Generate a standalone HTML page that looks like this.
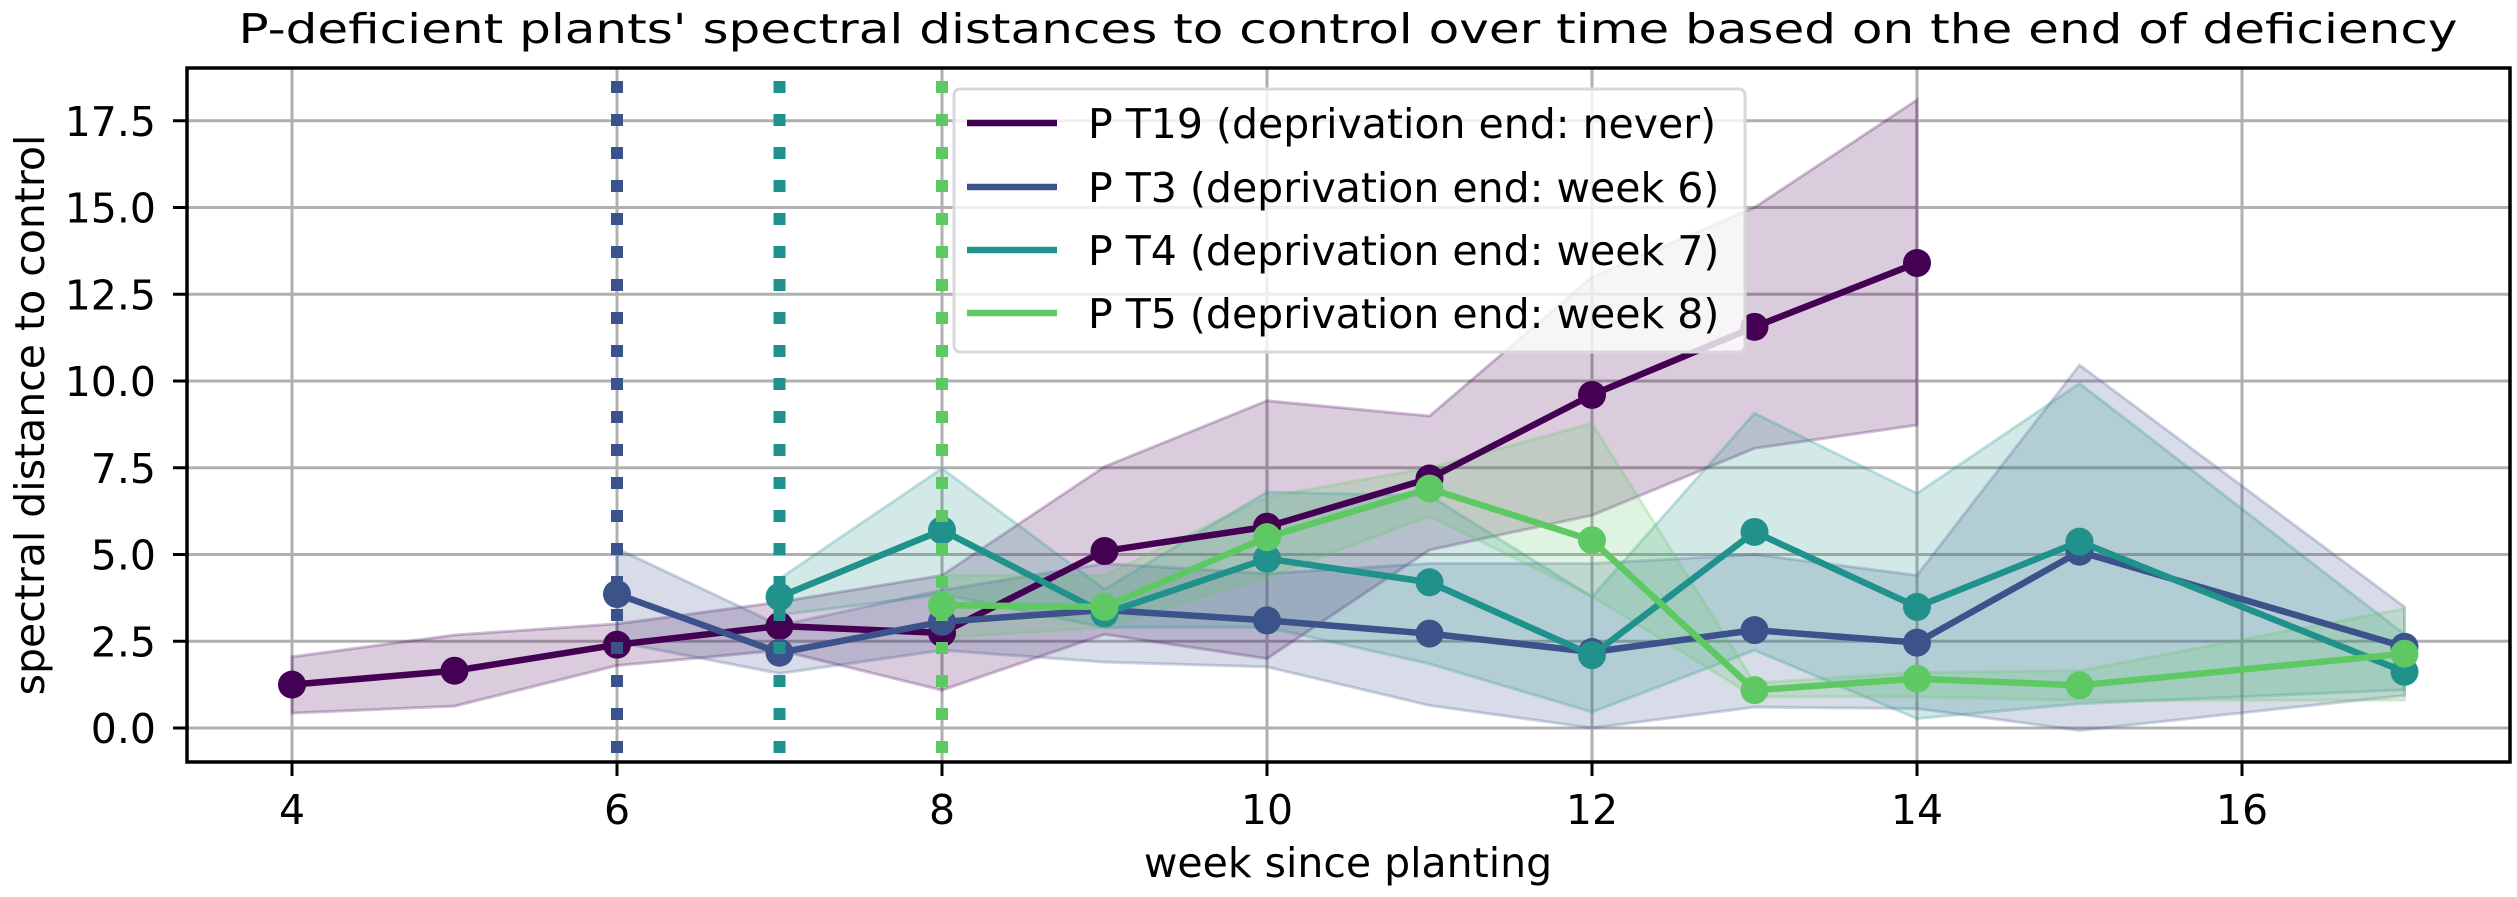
<!DOCTYPE html>
<html><head><meta charset="utf-8">
<style>
html,body{margin:0;padding:0;background:#fff;}
svg{display:block;font-family:"DejaVu Sans","Liberation Sans",sans-serif;}
</style></head>
<body>
<svg id="chart" width="2517" height="897" viewBox="0 0 2517 897" xmlns="http://www.w3.org/2000/svg">
  <rect x="0" y="0" width="2517" height="897" fill="#fff"/>
  <text x="1348" y="43" font-size="41" text-anchor="middle" textLength="2219" lengthAdjust="spacingAndGlyphs">P-deficient plants' spectral distances to control over time based on the end of deficiency</text>
  <g id="grid"></g>
  <g id="series"></g>
  <g id="vlines"></g>
  <rect x="187" y="68" width="2323" height="694" fill="none" stroke="#000" stroke-width="3.5"/>
  <g id="ticks"></g>
  <text x="1348" y="877" font-size="41" text-anchor="middle">week since planting</text>
  <text x="0" y="0" font-size="41" text-anchor="middle" transform="translate(44,415) rotate(-90)">spectral distance to control</text>
  <g id="legend"></g>
</svg>
<script>
const xTicks = [4, 6, 8, 10, 12, 14, 16];
const yTicks = [0, 2.5, 5, 7.5, 10, 12.5, 15, 17.5];
const yTickLabels = ["0.0", "2.5", "5.0", "7.5", "10.0", "12.5", "15.0", "17.5"];

const seriesNames = ["P T19 (deprivation end: never)", "P T3 (deprivation end: week 6)", "P T4 (deprivation end: week 7)", "P T5 (deprivation end: week 8)"];
const seriesColors = ["#440154", "#3b528b", "#21918c", "#5ec962"];
const deprivationEnd = [null, 6, 7, 8];

const weeksT19 = [4, 5, 6, 7, 8, 9, 10, 11, 12, 13, 14];
const meanT19 = [1.25, 1.65, 2.4, 2.94, 2.74, 5.1, 5.8, 7.19, 9.6, 11.56, 13.4];
const loT19 = [0.43, 0.63, 1.8, 2.24, 1.09, 2.7, 2.0, 5.13, 6.13, 8.06, 8.73];
const hiT19 = [2.05, 2.68, 3.0, 3.63, 4.4, 7.53, 9.43, 8.99, 13.0, 15.0, 18.1];

const weeksT3 = [6, 7, 8, 9, 10, 11, 12, 13, 14, 15, 17];
const meanT3 = [3.86, 2.17, 3.06, 3.4, 3.1, 2.72, 2.19, 2.82, 2.46, 5.08, 2.34];
const loT3 = [2.48, 1.57, 2.24, 1.9, 1.76, 0.65, 0.0, 0.6, 0.56, -0.07, 0.94];
const hiT3 = [5.17, 2.96, 3.97, 4.74, 4.45, 4.74, 4.74, 5.0, 4.4, 10.46, 3.49];

const weeksT4 = [7, 8, 9, 10, 11, 12, 13, 14, 15, 17];
const meanT4 = [3.78, 5.7, 3.3, 4.88, 4.2, 2.1, 5.65, 3.49, 5.37, 1.62];
const loT4 = [3.25, 3.85, 2.9, 2.9, 1.85, 0.46, 2.24, 0.27, 0.7, 1.1];
const hiT4 = [4.3, 7.48, 4.0, 6.8, 6.7, 3.78, 9.07, 6.76, 9.93, 2.7];

const weeksT5 = [8, 9, 10, 11, 12, 13, 14, 15, 17];
const meanT5 = [3.54, 3.49, 5.5, 6.9, 5.41, 1.09, 1.42, 1.23, 2.14];
const loT5 = [2.6, 2.9, 4.35, 6.1, 3.8, 0.9, 0.9, 0.8, 0.8];
const hiT5 = [4.4, 4.4, 6.66, 7.5, 8.78, 1.3, 1.6, 1.65, 3.44];

const NS = "http://www.w3.org/2000/svg";
const PL = 187, PR = 2510, PT = 68, PB = 762;
function xs(w) { return 292 + (w - 4) * 162.5; }
function ys(v) { return 728 - v * 34.7; }
function mk(tag, attrs, parent) {
  const e = document.createElementNS(NS, tag);
  for (const k in attrs) e.setAttribute(k, attrs[k]);
  parent.appendChild(e);
  return e;
}

const grid = document.getElementById("grid");
const ticks = document.getElementById("ticks");
xTicks.forEach((t, i) => {
  const g = mk("line", {x1: xs(t), x2: xs(t), y1: PT, y2: PB, stroke: "#b0b0b0", "stroke-width": 3}, grid);
  
  
  const tk = mk("line", {x1: xs(t), x2: xs(t), y1: PB, y2: PB + 14, stroke: "#000", "stroke-width": 3}, ticks);
  
  
  const tl = mk("text", {x: xs(t), y: 824, "font-size": 41, "text-anchor": "middle"}, ticks);
  tl.textContent = String(t);
  
  
});
yTicks.forEach((t, i) => {
  const g = mk("line", {x1: PL, x2: PR, y1: ys(t), y2: ys(t), stroke: "#b0b0b0", "stroke-width": 3}, grid);
  
  
  const tk = mk("line", {x1: PL - 14, x2: PL, y1: ys(t), y2: ys(t), stroke: "#000", "stroke-width": 3}, ticks);
  
  
  const tl = mk("text", {x: 156, y: ys(t) + 15, "font-size": 41, "text-anchor": "end"}, ticks);
  tl.textContent = yTickLabels[i];
  
  
});

const allWeeks = [weeksT19, weeksT3, weeksT4, weeksT5];
const allMean = [meanT19, meanT3, meanT4, meanT5];
const allLo = [loT19, loT3, loT4, loT5];
const allHi = [hiT19, hiT3, hiT4, hiT5];
const seriesKeys = ["t19", "t3", "t4", "t5"];
const layer = document.getElementById("series");

for (let s = 0; s < 4; s++) {
  const w = allWeeks[s], m = allMean[s], lo = allLo[s], hi = allHi[s], c = seriesColors[s];
  let pts = [];
  for (let i = 0; i < w.length; i++) pts.push(xs(w[i]) + "," + ys(hi[i]));
  for (let i = w.length - 1; i >= 0; i--) pts.push(xs(w[i]) + "," + ys(lo[i]));
  const band = mk("polygon", {points: pts.join(" "), fill: c, "fill-opacity": 0.2, stroke: c, "stroke-opacity": 0.25, "stroke-width": 3}, layer);
  
  
}
for (let s = 0; s < 4; s++) {
  const w = allWeeks[s], m = allMean[s], c = seriesColors[s];
  const lp = w.map((v, i) => xs(v) + "," + ys(m[i])).join(" ");
  const line = mk("polyline", {points: lp, fill: "none", stroke: c, "stroke-width": 6.5, "stroke-linejoin": "round"}, layer);
  
  
  for (let i = 0; i < w.length; i++) {
    const p = mk("circle", {cx: xs(w[i]), cy: ys(m[i]), r: 14, fill: c}, layer);
    
    
  }
}

const vl = document.getElementById("vlines");
for (let s = 0; s < 4; s++) {
  if (deprivationEnd[s] === null) continue;
  const l = mk("line", {x1: xs(deprivationEnd[s]), x2: xs(deprivationEnd[s]), y1: PT + 13, y2: PB, stroke: seriesColors[s], "stroke-width": 12, "stroke-dasharray": "12 21"}, vl);
  
  
}

const lg = document.getElementById("legend");
const box = mk("rect", {x: 954, y: 89, width: 791, height: 263, rx: 6, fill: "#fff", "fill-opacity": 0.8, stroke: "#d8d8d8", "stroke-width": 3}, lg);


const rowY = [123, 187, 250, 313];
for (let s = 0; s < 4; s++) {
  const ln = mk("line", {x1: 967, x2: 1057, y1: rowY[s], y2: rowY[s], stroke: seriesColors[s], "stroke-width": 6.5}, lg);
  
  
  const tx = mk("text", {x: 1088, y: rowY[s] + 15, "font-size": 41}, lg);
  tx.textContent = seriesNames[s];
  
  
}
</script>
</body></html>
